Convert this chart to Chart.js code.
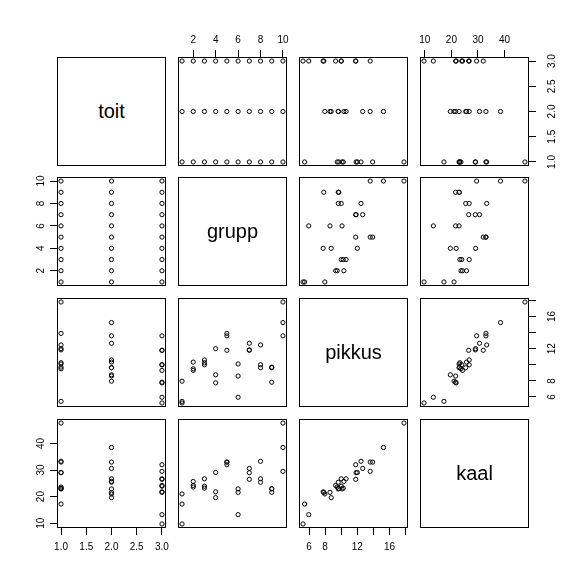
<!DOCTYPE html>
<html lang="et">
<head>
<meta charset="UTF-8">
<title>pairs</title>
<script src="https://cdn.jsdelivr.net/npm/chart.js"></script>
<style>
  body { margin: 0; background: #fff; }
  #wrap { position: relative; width: 586px; height: 585px; overflow: hidden; background: #fff; }
  canvas { position: absolute; }
  .diag { position: absolute; box-sizing: border-box; border: 1px solid #000;
          display: flex; align-items: center; justify-content: center;
          font: 20px "Liberation Sans", Arial, sans-serif; color: #000; }
</style>
</head>
<body>
<div id="wrap"></div>
<script>
// variables in column order
const varNames = ['toit', 'grupp', 'pikkus', 'kaal'];

const toit   = [1,1,1,1,1,1,1,1,1,1, 2,2,2,2,2,2,2,2,2,2, 3,3,3,3,3,3,3,3,3,3];
const grupp  = [1,2,3,4,5,6,7,8,9,10, 1,2,3,4,5,6,7,8,9,10, 1,2,3,4,5,6,7,8,9,10];
const pikkus = [5.45, 9.5, 10.25, 12.0, 13.9, 10.1, 11.85, 12.46, 9.7, 17.8,
                7.96, 10.33, 10.6, 8.75, 13.6, 8.6, 12.67, 9.63, 9.63, 15.25,
                5.25, 9.3, 10.0, 7.75, 11.8, 5.96, 11.8, 10.0, 7.83, 13.6];
const kaal   = [17.2, 23.6, 23.2, 29.1, 33.0, 22.9, 29.0, 33.3, 23.0, 47.7,
                21.0, 25.7, 26.7, 19.6, 33.0, 21.6, 30.6, 25.4, 22.9, 38.5,
                9.7, 24.2, 23.9, 21.8, 32.0, 13.2, 26.5, 26.7, 21.6, 29.5];

const toitTicks   = [1, 1.5, 2, 2.5, 3];
const toitLabels  = ['1.0', '1.5', '2.0', '2.5', '3.0'];
const gruppTicks  = [2, 4, 6, 8, 10];
const gruppLabels = ['2', '4', '6', '8', '10'];
const pikkusTicks  = [6, 8, 10, 12, 14, 16, 18];
const pikkusLabels = ['6', '8', '', '12', '', '16', ''];
const kaalTicks  = [10, 20, 30, 40];
const kaalLabels = ['10', '20', '30', '40'];

const vars = [
  { data: toit,   ticks: toitTicks,   labels: toitLabels },
  { data: grupp,  ticks: gruppTicks,  labels: gruppLabels },
  { data: pikkus, ticks: pikkusTicks, labels: pikkusLabels },
  { data: kaal,   ticks: kaalTicks,   labels: kaalLabels }
];
// R style range: data range stretched by 4% each side
vars.forEach(v => {
  const lo = Math.min(...v.data), hi = Math.max(...v.data);
  const d = (hi - lo) * 0.04;
  v.min = lo - d;
  v.max = hi + d;
});

const cellLeft = [57, 178, 299, 420];
const cellTop  = [57, 177, 298, 419];
const cell = 109;
const M = 40;
const tickFont = { family: '"Liberation Sans", Arial, sans-serif', size: 10 };

// box round every panel + rotated labels of the y axes
const panelPlugin = {
  id: 'panel',
  afterDraw(chart) {
    const a = chart.chartArea;
    const ctx = chart.ctx;
    ctx.save();
    ctx.strokeStyle = '#000';
    ctx.lineWidth = 1;
    ctx.strokeRect(a.left + 0.5, a.top + 0.5, a.right - a.left - 1, a.bottom - a.top - 1);
    const o = chart.options.plugins.panel;
    if (o && o.side) {
      const s = chart.scales.y;
      ctx.font = '10px "Liberation Sans", Arial, sans-serif';
      ctx.fillStyle = '#000';
      ctx.textAlign = 'center';
      ctx.textBaseline = 'alphabetic';
      o.ticks.forEach((v, i) => {
        const y = s.getPixelForValue(v);
        const x = o.side === 'left' ? a.left - 13.5 : a.right + 26;
        ctx.save();
        ctx.translate(x, y);
        ctx.rotate(-Math.PI / 2);
        ctx.fillText(o.labels[i], 0, 0);
        ctx.restore();
      });
    }
    ctx.restore();
  }
};

const wrap = document.getElementById('wrap');

for (let r = 0; r < 4; r++) {
  for (let c = 0; c < 4; c++) {
    if (r === c) {
      const d = document.createElement('div');
      d.className = 'diag';
      d.style.left = cellLeft[c] + 'px';
      d.style.top = cellTop[r] + 'px';
      d.style.width = cell + 'px';
      d.style.height = cell + 'px';
      d.textContent = varNames[r];
      wrap.appendChild(d);
      continue;
    }
    const xv = vars[c], yv = vars[r];
    let xPos = null, yPos = null;
    if (r === 0 && c % 2 === 1) xPos = 'top';
    if (r === 3 && c % 2 === 0) xPos = 'bottom';
    if (c === 0 && r % 2 === 1) yPos = 'left';
    if (c === 3 && r % 2 === 0) yPos = 'right';

    const cv = document.createElement('canvas');
    cv.width = cell + 2 * M;
    cv.height = cell + 2 * M;
    cv.style.left = (cellLeft[c] - M) + 'px';
    cv.style.top = (cellTop[r] - M) + 'px';
    wrap.appendChild(cv);

    const pts = xv.data.map((x, i) => ({ x: x, y: yv.data[i] }));

    new Chart(cv.getContext('2d'), {
      type: 'scatter',
      data: {
        datasets: [{
          data: pts,
          pointStyle: 'circle',
          pointRadius: 2.1,
          borderWidth: 1,
          borderColor: '#000',
          backgroundColor: 'rgba(0,0,0,0)'
        }]
      },
      options: {
        responsive: false,
        animation: false,
        events: [],
        layout: {
          padding: {
            top: xPos === 'top' ? 0 : M,
            bottom: xPos === 'bottom' ? 0 : M,
            left: yPos === 'left' ? 0 : M,
            right: yPos === 'right' ? 0 : M
          }
        },
        scales: {
          x: {
            type: 'linear',
            position: xPos || 'bottom',
            display: !!xPos,
            min: xv.min,
            max: xv.max,
            afterBuildTicks: s => { s.ticks = xv.ticks.map(v => ({ value: v })); },
            afterFit: s => { s.height = xPos ? M : 0; },
            grid: { drawOnChartArea: false, tickLength: 7, color: '#000', lineWidth: 1 },
            border: { display: false },
            ticks: {
              autoSkip: false,
              maxRotation: 0,
              minRotation: 0,
              padding: xPos === 'top' ? 4 : 6,
              color: '#000',
              font: tickFont,
              callback: (v, i) => xv.labels[i]
            }
          },
          y: {
            type: 'linear',
            position: yPos || 'left',
            display: !!yPos,
            min: yv.min,
            max: yv.max,
            afterBuildTicks: s => { s.ticks = yv.ticks.map(v => ({ value: v })); },
            afterFit: s => { s.width = yPos ? M : 0; },
            grid: { drawOnChartArea: false, tickLength: 7, color: '#000', lineWidth: 1 },
            border: { display: false },
            ticks: { display: false }
          }
        },
        plugins: {
          legend: { display: false },
          tooltip: { enabled: false },
          panel: yPos ? { side: yPos, ticks: yv.ticks, labels: yv.labels } : {}
        }
      },
      plugins: [panelPlugin]
    });
  }
}
</script>
</body>
</html>
